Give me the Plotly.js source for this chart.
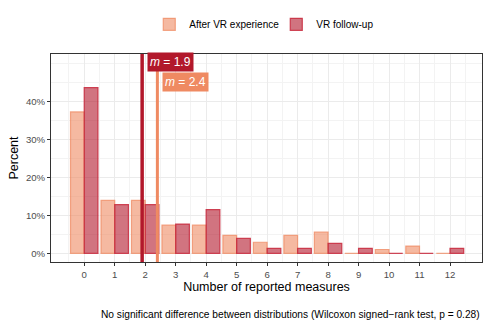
<!DOCTYPE html>
<html>
<head>
<meta charset="utf-8">
<script src="https://cdn.plot.ly/plotly-3.0.1.min.js"></script>
<style>html,body{margin:0;padding:0;background:#fff;}#chart{width:492px;height:329px;}</style>
</head>
<body>
<div id="chart"></div>
<script>
// Data (percent of respondents by number of reported measures)
const measures = [0, 1, 2, 3, 4, 5, 6, 7, 8, 9, 10, 11, 12];
const afterVR = [37.2, 13.9, 13.9, 7.4, 7.4, 4.7, 2.9, 4.7, 5.6, 0, 1.0, 1.9, 0];
const followUp = [43.6, 12.8, 12.8, 7.7, 11.5, 3.9, 1.3, 1.3, 2.6, 1.3, 0, 0, 1.3];
const seriesNames = ["After VR experience", "VR follow-up"];
const means = [2.4, 1.9];           // after VR, follow-up
const yTickVals = [0, 10, 20, 30, 40];
const yTickText = ["0%", "10%", "20%", "30%", "40%"];
const yMinorVals = [5, 15, 25, 35, 45, 50];
const caption = "No significant difference between distributions (Wilcoxon signed\u2212rank test, p = 0.28)";

const FONT = "Liberation Sans, Arial, Helvetica, sans-serif";
const colAfter = "#EF8A62", colFollow = "#B2182B";

const traces = [
  {type: "bar", name: seriesNames[0], x: measures, y: afterVR,
   marker: {color: "rgba(239,138,98,0.6)", line: {color: "rgba(239,138,98,0.75)", width: 1.2}}},
  {type: "bar", name: seriesNames[1], x: measures, y: followUp,
   marker: {color: "rgba(178,24,43,0.6)", line: {color: "rgba(200,40,60,0.85)", width: 1.2}}}
];

const lineCols = [colAfter, colFollow];
const lineW = [3, 3.5];
const shapes = means.map((m, i) => ({
  type: "line", xref: "x", yref: "paper", x0: m, x1: m, y0: 0, y1: 1,
  line: {color: lineCols[i], width: lineW[i]}, layer: "above"
}));
const labelY = [0.866, 0.96];
const annotations = means.map((m, i) => ({
  xref: "x", yref: "paper", x: m, y: labelY[i], xanchor: "left", yanchor: "middle",
  xshift: 5, text: "<i>m</i> = " + m.toFixed(1), showarrow: false,
  bgcolor: lineCols[i], borderpad: 2, font: {family: FONT, size: 12, color: "#ffffff"}
}));
annotations.push({
  xref: "paper", yref: "paper", x: 1, y: -0.254, xanchor: "right", yanchor: "middle",
  text: caption, showarrow: false, font: {family: FONT, size: 10.2, color: "#000000"}
});

const layout = {
  width: 492, height: 329,
  margin: {l: 51, r: 10, t: 54, b: 67},
  paper_bgcolor: "#ffffff", plot_bgcolor: "#ffffff",
  font: {family: FONT, color: "#000"},
  barmode: "group", bargap: 0.1, bargroupgap: 0,
  showlegend: true,
  legend: {orientation: "h", x: 0.228, xanchor: "left", y: 1.1426, yanchor: "middle",
           entrywidth: 82, entrywidthmode: "pixels",
           font: {family: FONT, size: 10, color: "#000"}, bgcolor: "rgba(0,0,0,0)"},
  xaxis: {
    range: [-1.09, 13.05], tickmode: "array", tickvals: measures, ticktext: measures.map(String),
    ticks: "outside", ticklen: 3, tickcolor: "#333333", tickwidth: 1,
    tickfont: {family: FONT, size: 9.6, color: "#4D4D4D"},
    showgrid: true, gridcolor: "#EBEBEB", gridwidth: 1,
    minor: {tick0: 0.5, dtick: 1, showgrid: true, gridcolor: "#F3F3F3", gridwidth: 1, ticks: ""},
    showline: true, mirror: true, linecolor: "#333333", linewidth: 1, zeroline: false,
    title: {text: "Number of reported measures", font: {family: FONT, size: 12.5, color: "#000"}, standoff: 2}
  },
  yaxis: {
    range: [-2.29, 52.43], tickmode: "array", tickvals: yTickVals, ticktext: yTickText,
    ticks: "outside", ticklen: 3, tickcolor: "#333333", tickwidth: 1,
    tickfont: {family: FONT, size: 9.6, color: "#4D4D4D"},
    showgrid: true, gridcolor: "#EBEBEB", gridwidth: 1,
    minor: {tickmode: "array", tickvals: yMinorVals, showgrid: true, gridcolor: "#F3F3F3", gridwidth: 1, ticks: ""},
    showline: true, mirror: true, linecolor: "#333333", linewidth: 1, zeroline: false,
    title: {text: "Percent", font: {family: FONT, size: 12.5, color: "#000"}, standoff: 4}
  },
  shapes: shapes,
  annotations: annotations
};

Plotly.newPlot("chart", traces, layout, {displayModeBar: false, staticPlot: true});
</script>
</body>
</html>
